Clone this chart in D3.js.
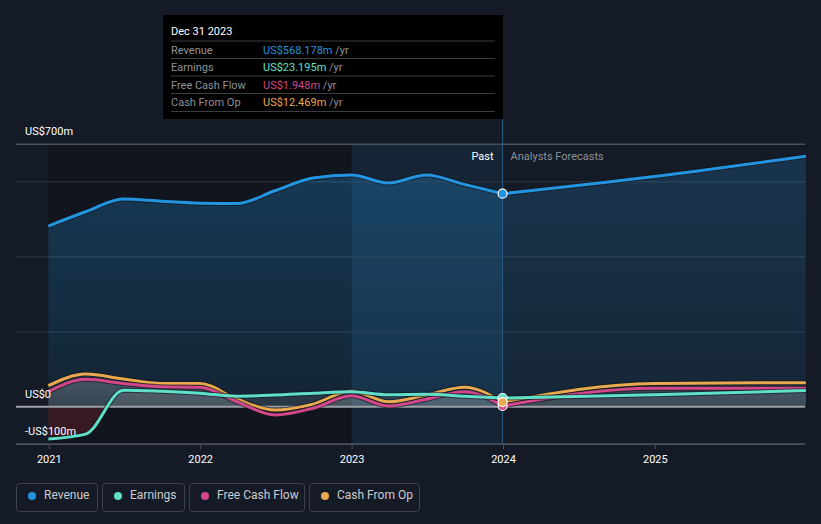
<!DOCTYPE html>
<html><head><meta charset="utf-8">
<script src="https://cdn.jsdelivr.net/npm/d3@7"></script>
<style>
html,body{margin:0;padding:0;background:#151b26;}
svg{display:block;font-family:Roboto,"Noto Sans",sans-serif;}
</style></head>
<body><svg id="c" width="821" height="524"></svg>
<script>
const dates = ["2020-12-31","2021-03-31","2021-06-30","2021-09-30","2021-12-31","2022-03-31","2022-06-30","2022-09-30","2022-12-31","2023-03-31","2023-06-30","2023-09-30","2023-12-31"];
const revenue  = [482,520,554,548,543,542,576,610,618,597,618,593,568.178];
const earnings = [-86,-73,44,41,36,28,31,36,40,32,33,28,23.195];
const fcf      = [40,73,62,53,52,13,-22,-4,29,2,20,40,1.948];
const cfo      = [56,87,74,62,62,20,-9,7,42,13,31,52,12.469];
const fDates    = ["2023-12-31","2024-12-31","2025-12-31"];
const fRevenue  = [568.178,614,668];
const fEarnings = [23.195,32,43];
const fFcf      = [1.948,49,49];
const fCfo      = [12.469,62,64];
const yTicks = [-100,0,200,400,600,700];
const yLabels = [{v:700,t:"US$700m"},{v:0,t:"US$0"},{v:-100,t:"-US$100m"}];
const xTickYears = [2021,2022,2023,2024,2025];
const seriesNames = ["Revenue","Earnings","Free Cash Flow","Cash From Op"];
const colors = ["#2394df","#5ee0c9","#d1478a","#e8a94f"];
const tipValues = ["US$568.178m","US$23.195m","US$1.948m","US$12.469m"];

const svg = d3.select("#c");
const parse = d3.timeParse("%Y-%m-%d");
const x = d3.scaleTime().domain([parse("2020-10-14"), parse("2025-12-29")]).range([16,805]);
const y = d3.scaleLinear().domain([-100,700]).range([444.2,144.3]);
const nowX = x(parse("2023-12-31"));
const startX = x(parse(dates[0]));
const x2023 = x(parse("2023-01-01"));

svg.append("rect").attr("width",821).attr("height",524).attr("fill","#151b26");
// past darker region
svg.append("rect").attr("x",startX).attr("y",y(700)).attr("width",x2023-startX).attr("height",y(-100)-y(700)).attr("fill","#0e1116").attr("opacity",0.55);
svg.append("rect").attr("x",x2023).attr("y",y(700)).attr("width",nowX-x2023).attr("height",y(-100)-y(700)).attr("fill","#1b3a56").attr("opacity",0.35);

// gridlines
yTicks.forEach(v=>{
  if(v===0) return;
  svg.append("line").attr("x1",16).attr("x2",805).attr("y1",y(v)).attr("y2",y(v))
    .attr("stroke", v===700||v===-100 ? "#4a505a" : "#262d39").attr("stroke-width",1.5);
});

const defs = svg.append("defs");
const g1 = defs.append("linearGradient").attr("id","revg").attr("x1",0).attr("x2",0).attr("y1",0).attr("y2",1);
g1.append("stop").attr("offset","0%").attr("stop-color","#2394df").attr("stop-opacity",0.28);
g1.append("stop").attr("offset","100%").attr("stop-color","#2394df").attr("stop-opacity",0.12);
const g2 = defs.append("linearGradient").attr("id","smallg").attr("gradientUnits","userSpaceOnUse").attr("x1",0).attr("x2",0).attr("y1",y(100)).attr("y2",y(-100));
g2.append("stop").attr("offset","0%").attr("stop-color","#ffffff").attr("stop-opacity",0.12);
g2.append("stop").attr("offset","50%").attr("stop-color","#ffffff").attr("stop-opacity",0.08);
g2.append("stop").attr("offset","50%").attr("stop-color","#c0283e").attr("stop-opacity",0.22);
g2.append("stop").attr("offset","100%").attr("stop-color","#c0283e").attr("stop-opacity",0.22);

function pts(ds, vs){ return ds.map((d,i)=>({d:parse(d), v:vs[i]})); }
const curve = d3.curveMonotoneX;
const line = d3.line().x(p=>x(p.d)).y(p=>y(p.v)).curve(curve);
const area = d3.area().x(p=>x(p.d)).y0(y(0)).y1(p=>y(p.v)).curve(curve);

const past = [pts(dates,revenue),pts(dates,earnings),pts(dates,fcf),pts(dates,cfo)];
const fut  = [pts(fDates,fRevenue),pts(fDates,fEarnings),pts(fDates,fFcf),pts(fDates,fCfo)];

// areas
[0,1,2,3].forEach(i=>{
  const fill = i===0 ? "url(#revg)" : "url(#smallg)";
  svg.append("path").attr("d",area(past[i])).attr("fill",fill);
  svg.append("path").attr("d",area(fut[i])).attr("fill",fill).attr("opacity",0.75);
});

// zero line
svg.append("line").attr("x1",16).attr("x2",805).attr("y1",y(0)).attr("y2",y(0)).attr("stroke","#9da0a6").attr("stroke-width",2);

// lines: draw small series first then revenue
[3,2,1,0].forEach(i=>{
  [past[i],fut[i]].forEach(p=>{
    svg.append("path").attr("d",line(p)).attr("fill","none").attr("stroke","#10141b").attr("stroke-opacity",0.6).attr("stroke-width",5);
    svg.append("path").attr("d",line(p)).attr("fill","none").attr("stroke",colors[i]).attr("stroke-width",3);
  });
});

// now vertical line
svg.append("line").attr("x1",nowX).attr("x2",nowX).attr("y1",119).attr("y2",444).attr("stroke","#2a5c84").attr("stroke-width",1);

// markers
const lastVals = [revenue[12],earnings[12],cfo[12],fcf[12]];
const lastCols = [colors[0],colors[1],colors[3],colors[2]];
[1,2,3,0].forEach(k=>{});
[[fcf[12],colors[2]],[earnings[12],colors[1]],[cfo[12],colors[3]],[revenue[12],colors[0]]].forEach(([v,c])=>{
  svg.append("circle").attr("cx",nowX).attr("cy",y(v)).attr("r",4.5).attr("fill",c).attr("stroke","#ffffff").attr("stroke-width",1.2);
});

// x axis
svg.append("line").attr("x1",16).attr("x2",805).attr("y1",444.2).attr("y2",444.2).attr("stroke","#4a505a").attr("stroke-width",1.5);
const xa = svg.append("g").attr("transform","translate(0,444.2)")
  .call(d3.axisBottom(x).tickValues(xTickYears.map(yr=>new Date(yr,0,1))).tickFormat(d3.timeFormat("%Y")).tickSize(5).tickPadding(6));
xa.select(".domain").remove();
xa.selectAll(".tick line").attr("stroke","#4a505a");
xa.selectAll(".tick text").attr("fill","#ffffff").attr("font-size",11).attr("font-family","Roboto, sans-serif");

// y labels
yLabels.forEach(l=>{
  svg.append("text").attr("x",25).attr("y",y(l.v)-8).attr("fill","#ffffff").attr("font-size",11).attr("dominant-baseline","middle")
    .text(l.t).attr("y", l.v===700 ? 132 : (l.v===0 ? 395 : 432));
});

// Past / forecasts
svg.append("text").attr("x",nowX-9).attr("y",160).attr("text-anchor","end").attr("fill","#ffffff").attr("font-size",11).text("Past");
svg.append("text").attr("x",nowX+8).attr("y",160).attr("fill","#8a8f98").attr("font-size",11).text("Analysts Forecasts");

// tooltip
const tip = svg.append("g");
tip.append("rect").attr("x",163).attr("y",15).attr("width",340).attr("height",104).attr("fill","#000000");
tip.append("text").attr("x",171).attr("y",35).attr("fill","#ffffff").attr("font-size",11).text("Dec 31 2023");
const sepY = [41,58.5,76,93.5,111.5];
sepY.forEach(sy=>tip.append("line").attr("x1",171).attr("x2",495).attr("y1",sy).attr("y2",sy).attr("stroke","#3a3d42").attr("stroke-width",1));
seriesNames.forEach((n,i)=>{
  const ty = sepY[i]+12.5;
  tip.append("text").attr("x",171).attr("y",ty).attr("fill","#8e9196").attr("font-size",11).text(n);
  const t = tip.append("text").attr("x",263).attr("y",ty).attr("font-size",11);
  t.append("tspan").attr("fill",colors[i]).text(tipValues[i]);
  t.append("tspan").attr("fill","#8e9196").text(" /yr");
});

// legend
const boxes = [[16,81],[102,82],[189,115],[309,110]];
seriesNames.forEach((n,i)=>{
  const [bx,bw] = boxes[i];
  const g = svg.append("g");
  g.append("rect").attr("x",bx+0.5).attr("y",483.5).attr("width",bw).attr("height",28).attr("rx",3).attr("fill","none").attr("stroke","#3c414b");
  g.append("circle").attr("cx",bx+16).attr("cy",496).attr("r",4).attr("fill",colors[i]);
  g.append("text").attr("x",bx+28).attr("y",496).attr("dominant-baseline","middle").attr("fill","#c9cbd0").attr("font-size",12).text(n);
});
</script>
</body></html>
